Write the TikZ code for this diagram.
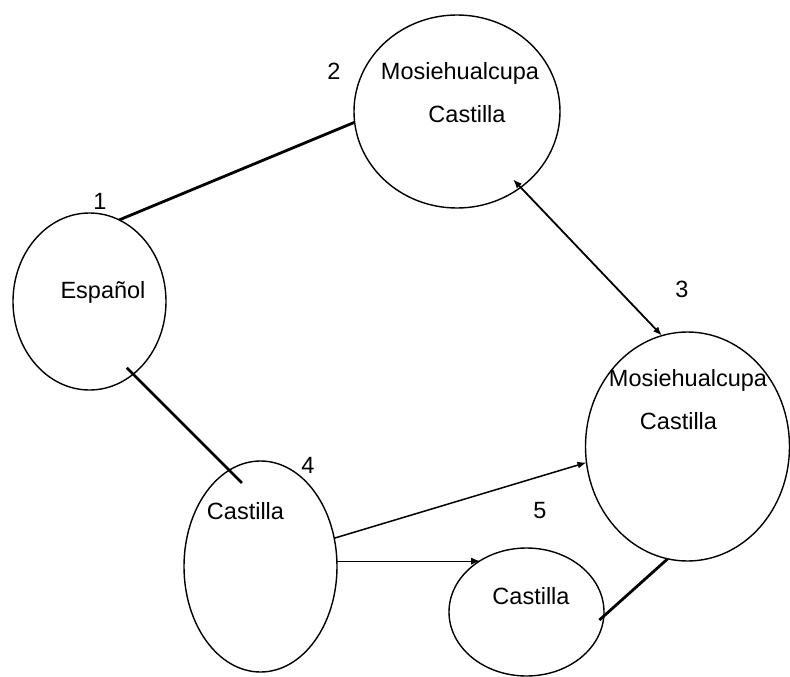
\documentclass[tikz,border=0pt]{standalone}
\usepackage{fontspec}
\setmainfont{Liberation Sans}
\usetikzlibrary{shapes.geometric,arrows.meta}
\begin{document}
\begin{tikzpicture}[x=1pt,y=-1pt,
  state/.style={ellipse,draw,line width=1.4pt,inner sep=0pt,outer sep=0pt},
  lbl/.style={anchor=base,inner sep=0pt,font=\fontsize{23.5}{26}\selectfont},
  heavy/.style={line width=2.8pt},
  tip/.style={-{Latex[length=9pt,width=7pt]}},
  tips/.style={{Latex[length=9pt,width=7pt]}-{Latex[length=9pt,width=7pt]}},
]
\useasboundingbox (0,0) rectangle (790,677);

% states
\node[state,minimum width=153pt,minimum height=177pt] (e1) at (89.5,301.5) {};
\node[state,minimum width=206pt,minimum height=193pt] (e2) at (457,111.5) {};
\node[state,minimum width=204pt,minimum height=229pt] (e3) at (687.5,446.5) {};
\node[state,minimum width=153pt,minimum height=211pt] (e4) at (260.5,566.5) {};
\node[state,minimum width=155pt,minimum height=128pt] (e5) at (526.5,612) {};

% texts inside the states
\node[lbl] (t1) at (103,298) {Español};
\node[lbl] (t2a) at (460,79) {Mosiehualcupa};
\node[lbl] (t2b) at (467,122.5) {Castilla};
\node[lbl] (t3a) at (688,386) {Mosiehualcupa};
\node[lbl] (t3b) at (678.5,429) {Castilla};
\node[lbl] (t4) at (245.5,519) {Castilla};
\node[lbl] (t5) at (531,604) {Castilla};

% state numbers
\node[lbl] (n1) at (100,209) {1};
\node[lbl] (n2) at (334,79) {2};
\node[lbl] (n3) at (682,297) {3};
\node[lbl] (n4) at (308,473) {4};
\node[lbl] (n5) at (540,518) {5};

% connectors
\draw[heavy] (e1.70) -- (e2.186);
\draw[line width=1.8pt,tips,shorten <=-11pt] (e2.-50) -- (e3.103);
\draw[heavy,shorten <=-9pt,shorten >=-18pt] (e1.-59) -- (e4.108);
\draw[line width=1.5pt,tip] (e4.21) -- (e3.189);
\draw[line width=0.9pt,tip,shorten >=-5pt] (e4.4) -- (e4.4 -| e5.137);
\draw[heavy,shorten <=-6pt] (e5.-3) -- (e3.260);
\end{tikzpicture}
\end{document}
